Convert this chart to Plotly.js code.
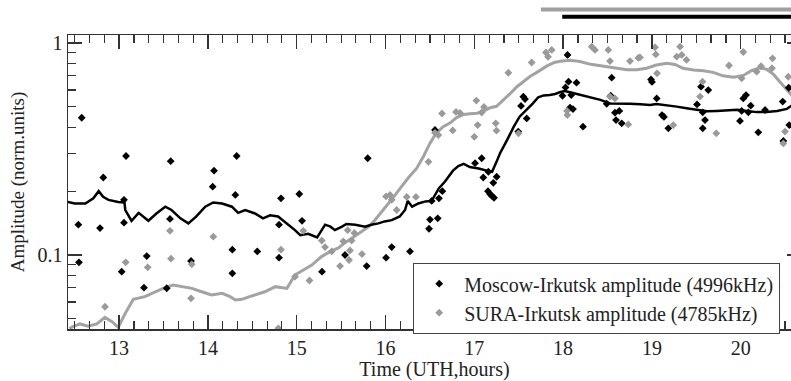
<!DOCTYPE html>
<html>
<head>
<meta charset="utf-8">
<script src="https://cdn.plot.ly/plotly-3.0.1.min.js"></script>
<style>html,body{margin:0;padding:0;overflow:hidden;background:#fff;}</style>
</head>
<body>
<div id="chart" style="width:802px;height:381px;"></div>
<script>
// ---- Moscow-Irkutsk (4996 kHz) individual measurements ----
const moscowHours = [12.541,12.548,12.579,12.785,12.822,13.029,13.055,13.055,13.078,13.280,13.311,13.536,13.573,13.581,13.810,14.054,14.069,14.275,14.275,14.309,14.324,14.556,14.801,14.801,14.823,15.029,15.060,15.285,15.544,15.788,15.800,16.006,16.070,16.276,16.490,16.501,16.520,16.557,16.588,16.602,16.640,17.008,17.083,17.101,17.154,17.158,17.177,17.199,17.214,17.222,17.252,17.495,17.526,17.552,17.571,17.590,17.993,18.027,18.050,18.061,18.078,18.092,18.111,18.151,18.224,18.491,18.536,18.547,18.584,18.596,18.633,18.660,18.990,19.001,19.054,19.114,19.136,19.185,19.508,19.553,19.572,19.572,19.598,19.635,19.992,20.011,20.029,20.060,20.086,20.113,20.198,20.274,20.473,20.480,20.541,20.547];
const moscowAmp = [0.139,0.0924,0.444,0.134,0.232,0.0834,0.142,0.182,0.293,0.0701,0.0989,0.0697,0.148,0.277,0.0937,0.210,0.250,0.106,0.0820,0.192,0.293,0.104,0.139,0.0971,0.185,0.194,0.145,0.0834,0.100,0.0887,0.286,0.0971,0.109,0.104,0.133,0.147,0.180,0.389,0.149,0.185,0.200,0.271,0.286,0.232,0.200,0.247,0.194,0.190,0.219,0.186,0.234,0.382,0.505,0.558,0.544,0.441,0.564,0.617,0.878,0.657,0.496,0.568,0.488,0.650,0.403,0.517,0.564,0.686,0.469,0.433,0.478,0.418,0.673,0.655,0.548,0.457,0.448,0.396,0.513,0.622,0.471,0.396,0.433,0.600,0.429,0.478,0.548,0.568,0.471,0.506,0.379,0.483,0.529,0.345,0.615,0.410];

// ---- SURA-Irkutsk (4785 kHz) individual measurements ----
const suraHours = [12.841,13.074,13.322,13.573,13.584,13.810,13.818,14.061,14.793,14.823,14.981,15.074,15.144,15.282,15.319,15.394,15.488,15.525,15.574,15.589,15.600,15.619,15.649,15.735,16.006,16.051,16.070,16.126,16.239,16.343,16.484,16.557,16.595,16.636,16.757,16.794,16.839,17.000,17.023,17.038,17.083,17.109,17.241,17.250,17.383,17.498,17.646,17.807,17.830,17.872,18.044,18.047,18.322,18.359,18.509,18.528,18.528,18.584,18.734,18.753,18.847,18.866,19.035,19.044,19.058,19.241,19.279,19.317,19.336,19.390,19.542,19.570,19.725,19.868,20.011,20.029,20.180,20.229,20.352,20.358,20.480,20.499,20.536];
const suraAmp = [0.0570,0.0924,0.0875,0.130,0.0961,0.0625,0.0904,0.122,0.0451,0.106,0.0790,0.130,0.0758,0.117,0.109,0.104,0.0887,0.116,0.131,0.0947,0.105,0.117,0.127,0.101,0.189,0.192,0.182,0.163,0.188,0.188,0.275,0.377,0.368,0.465,0.387,0.473,0.468,0.361,0.535,0.410,0.470,0.499,0.418,0.386,0.724,0.375,0.809,0.902,0.861,0.927,0.478,0.457,0.961,0.927,0.927,0.822,0.559,0.548,0.413,0.822,0.850,0.855,0.954,0.883,0.719,0.410,0.862,0.961,0.878,0.832,0.559,0.657,0.375,0.783,0.681,0.907,0.732,0.777,0.760,0.847,0.336,0.382,0.693];

// ---- Running-average curves ----
const moscowSmoothHours = [12.42,12.50,12.62,12.71,12.77,12.82,12.88,12.99,13.06,13.07,13.14,13.22,13.33,13.42,13.52,13.59,13.69,13.78,13.87,13.97,14.06,14.16,14.27,14.34,14.42,14.53,14.62,14.70,14.79,14.89,14.98,15.04,15.13,15.23,15.28,15.32,15.38,15.43,15.51,15.56,15.66,15.77,15.84,15.92,15.99,16.07,16.16,16.22,16.25,16.30,16.37,16.45,16.52,16.60,16.67,16.76,16.82,16.88,16.95,17.05,17.14,17.20,17.25,17.29,17.37,17.44,17.51,17.59,17.66,17.72,17.78,17.85,17.91,17.97,18.02,18.10,18.19,18.31,18.42,18.53,18.64,18.75,18.87,18.98,19.05,19.17,19.28,19.39,19.51,19.62,19.73,19.84,19.96,20.07,20.18,20.29,20.41,20.52,20.57,20.68];
const moscowSmoothAmp = [0.178,0.175,0.175,0.185,0.200,0.188,0.182,0.178,0.177,0.163,0.145,0.158,0.145,0.157,0.169,0.163,0.149,0.141,0.152,0.169,0.177,0.175,0.169,0.158,0.163,0.157,0.149,0.154,0.152,0.141,0.131,0.124,0.126,0.121,0.131,0.139,0.136,0.131,0.136,0.140,0.139,0.136,0.139,0.141,0.144,0.146,0.152,0.163,0.180,0.169,0.175,0.179,0.180,0.206,0.222,0.250,0.263,0.269,0.260,0.256,0.250,0.247,0.275,0.302,0.349,0.400,0.449,0.483,0.519,0.555,0.566,0.568,0.575,0.587,0.594,0.583,0.570,0.555,0.539,0.519,0.516,0.517,0.514,0.510,0.516,0.510,0.501,0.492,0.483,0.476,0.478,0.481,0.484,0.478,0.472,0.473,0.478,0.489,0.505,0.52];

const suraSmoothHours = [12.44,12.48,12.56,12.65,12.75,12.84,12.92,12.99,13.07,13.16,13.29,13.39,13.52,13.61,13.71,13.82,13.93,14.04,14.16,14.25,14.31,14.38,14.47,14.53,14.64,14.76,14.89,14.98,15.07,15.17,15.28,15.38,15.47,15.54,15.62,15.71,15.81,15.88,15.96,16.03,16.11,16.18,16.26,16.35,16.43,16.50,16.57,16.65,16.73,16.80,16.88,16.95,17.03,17.10,17.18,17.25,17.33,17.40,17.48,17.55,17.63,17.70,17.82,17.90,17.97,18.08,18.19,18.31,18.42,18.51,18.60,18.72,18.83,18.94,19.05,19.17,19.26,19.35,19.47,19.58,19.69,19.80,19.92,20.03,20.12,20.22,20.29,20.37,20.44,20.52,20.57,20.68];
const suraSmoothAmp = [0.045,0.0459,0.0473,0.0462,0.0473,0.0508,0.0485,0.0456,0.0531,0.0618,0.0636,0.0665,0.0704,0.0722,0.0709,0.0696,0.0671,0.0648,0.0660,0.0636,0.0613,0.0618,0.0636,0.0648,0.0671,0.0709,0.0696,0.0805,0.0849,0.0897,0.0983,0.104,0.108,0.114,0.120,0.127,0.136,0.146,0.160,0.175,0.192,0.210,0.232,0.256,0.293,0.336,0.375,0.403,0.420,0.445,0.460,0.464,0.466,0.476,0.495,0.503,0.539,0.575,0.622,0.657,0.697,0.725,0.780,0.810,0.820,0.828,0.818,0.793,0.780,0.770,0.760,0.748,0.748,0.760,0.787,0.802,0.792,0.760,0.746,0.740,0.727,0.700,0.690,0.703,0.740,0.763,0.752,0.711,0.657,0.605,0.570,0.50];

// ---- Period bars above the plot (start / end hour) ----
const periodStart = [17.75, 17.99];
const periodEnd = [20.9, 20.9];

// ---- Tick labels ----
const yTickVals = [0.1, 1];
const yTickText = ['0.1', '1'];
const yMinorVals = [0.05,0.06,0.07,0.08,0.09,0.2,0.3,0.4,0.5,0.6,0.7,0.8,0.9];

const FONT = '"Liberation Serif", "Times New Roman", serif';
const AX = '#333';

const traces = [
  {x: suraSmoothHours, y: suraSmoothAmp, type: 'scatter', mode: 'lines',
   line: {color: '#a3a3a3', width: 3}, showlegend: false, hoverinfo: 'skip'},
  {x: moscowSmoothHours, y: moscowSmoothAmp, type: 'scatter', mode: 'lines',
   line: {color: '#000', width: 2.5}, showlegend: false, hoverinfo: 'skip'},
  {x: moscowHours, y: moscowAmp, type: 'scatter', mode: 'markers',
   name: 'Moscow-Irkutsk amplitude (4996kHz)',
   marker: {symbol: 'diamond', size: 6, color: '#000'}},
  {x: suraHours, y: suraAmp, type: 'scatter', mode: 'markers',
   name: 'SURA-Irkutsk amplitude (4785kHz)',
   marker: {symbol: 'diamond', size: 6, color: '#9a9a9a'}}
];

const periodColors = ['#a0a0a0', '#000'];
const periodY = [1.087, 1.062];
const shapes = periodStart.map((s, i) => ({
  type: 'line', xref: 'x', yref: 'paper',
  x0: s, x1: periodEnd[i], y0: periodY[i], y1: periodY[i],
  line: {color: periodColors[i], width: 4}
}));

const layout = {
  width: 802, height: 381,
  margin: {l: 68, r: 1, t: 35, b: 52},
  paper_bgcolor: '#fff', plot_bgcolor: '#fff',
  font: {family: FONT, color: '#222', size: 20},
  showlegend: true,
  legend: {
    x: 0.4707, xanchor: 'left', y: 0.2245, yanchor: 'top',
    bgcolor: '#fff', bordercolor: '#444', borderwidth: 1.2,
    font: {family: FONT, size: 20, color: '#222'},
    itemwidth: 40, tracegroupgap: 0
  },
  xaxis: {
    range: [12.4245, 20.679],
    showgrid: false, zeroline: false,
    showline: true, linecolor: AX, linewidth: 1.5, mirror: 'ticks',
    ticks: 'inside', ticklen: 14, tickwidth: 1.3, tickcolor: AX,
    tickmode: 'linear', tick0: 12, dtick: 1,
    tickfont: {family: FONT, size: 20, color: '#222'},
    minor: {dtick: 1/6, tick0: 12, ticks: 'inside', ticklen: 8, tickwidth: 1.2, tickcolor: AX, showgrid: false},
    title: {text: 'Time (UTH,hours)', font: {family: FONT, size: 20, color: '#222'}, standoff: 6}
  },
  yaxis: {
    type: 'log', range: [-1.349, 0.0377],
    showgrid: false, zeroline: false,
    showline: true, linecolor: AX, linewidth: 1.5, mirror: 'ticks',
    ticks: 'inside', ticklen: 14, tickwidth: 1.3, tickcolor: AX,
    tickmode: 'array', tickvals: yTickVals, ticktext: yTickText,
    tickfont: {family: FONT, size: 20, color: '#222'},
    minor: {tickmode: 'array', tickvals: yMinorVals, ticks: 'inside', ticklen: 8, tickwidth: 1.2, tickcolor: AX, showgrid: false},
    title: {text: 'Amplitude (norm.units)', font: {family: FONT, size: 19, color: '#222'}, standoff: 8}
  },
  shapes: shapes
};

Plotly.newPlot('chart', traces, layout, {displayModeBar: false, staticPlot: true});
</script>
</body>
</html>
